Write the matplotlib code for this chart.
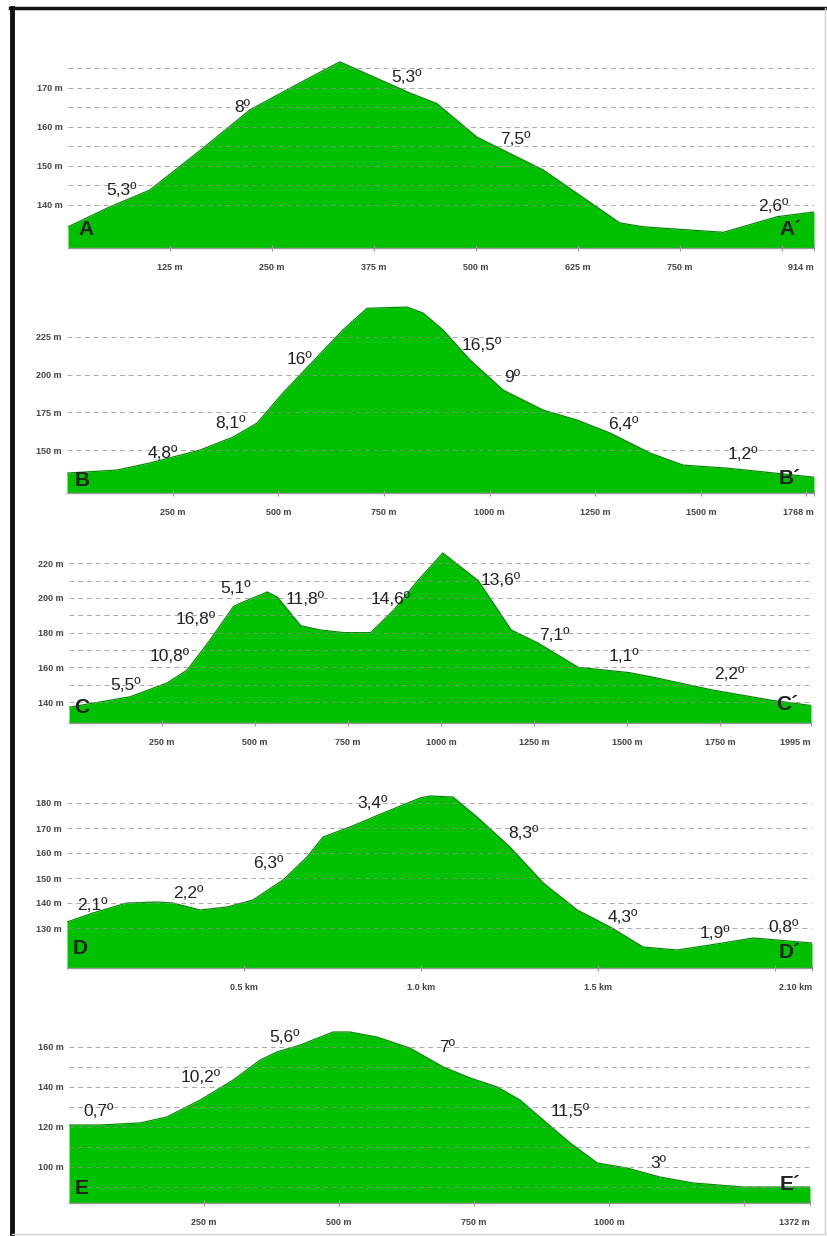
import matplotlib
matplotlib.use("Agg")
import matplotlib.pyplot as plt
from matplotlib.lines import Line2D

# ---------------- data ----------------
# Profile A-A'
a_dist = [0, 51, 100, 162, 223, 284, 333, 419, 452, 501, 582, 676, 705, 803, 869, 914]
a_elev = [134.4, 139.5, 143.8, 154, 164.4, 171.3, 176.7, 168.7, 166, 157.4, 149, 135.4, 134.4, 133, 137, 138.2]
# Profile B-B'
b_dist = [0, 118, 196, 315, 393, 450, 511, 592, 653, 710, 805, 843, 890, 954, 1032, 1127, 1207, 1285, 1380, 1458, 1562, 1768]
b_elev = [134.7, 136.7, 141.4, 150, 158.6, 167.9, 187.8, 211.7, 229.6, 244, 244.8, 240.8, 229.6, 209.7, 189.8, 176.5, 169.9, 161.3, 148, 140, 138, 132]
# Profile C-C'
c_dist = [0, 110, 164, 264, 318, 380, 442, 461, 533, 560, 623, 676, 739, 811, 873, 938, 1005, 1100, 1189, 1261, 1369, 1504, 1566, 1728, 1889, 1995]
c_elev = [137, 141, 143, 151, 158.5, 176, 195, 197, 203.4, 200.5, 184, 181.5, 180, 180, 193, 210, 225.9, 210, 181.5, 174, 160, 157, 154.5, 147, 141, 138]
# Profile D-D'
d_dist = [0, 73, 169, 254, 299, 376, 452, 525, 610, 678, 723, 799, 893, 997, 1025, 1090, 1158, 1251, 1345, 1441, 1534, 1627, 1723, 1816, 1938, 2005, 2104]
d_elev = [132.4, 136, 140, 140.4, 140, 137.2, 138.4, 141.2, 149.2, 158.4, 166.4, 170.4, 176, 182, 182.8, 182.4, 174.4, 162.4, 148, 137.2, 130.4, 122.4, 121.2, 123.2, 126, 125.2, 124]
# Profile E-E'
e_dist = [0, 57, 131, 181, 243, 304, 354, 385, 428, 489, 520, 570, 631, 693, 743, 793, 835, 878, 928, 978, 1033, 1094, 1156, 1248, 1372]
e_elev = [121, 121, 122, 125, 133.5, 143.5, 153.5, 157.5, 161, 167.5, 167.5, 165, 159.5, 150, 144.5, 140, 133.5, 123.5, 112, 102, 99.5, 95, 92, 90, 90]

# axis ticks
a_xticks = [125, 250, 375, 500, 625, 750, 875, 914]
a_xlabels = ["125 m", "250 m", "375 m", "500 m", "625 m", "750 m", "", "914 m"]
b_xticks = [250, 500, 750, 1000, 1250, 1500, 1750, 1768]
b_xlabels = ["250 m", "500 m", "750 m", "1000 m", "1250 m", "1500 m", "", "1768 m"]
c_xticks = [250, 500, 750, 1000, 1250, 1500, 1750, 1995]
c_xlabels = ["250 m", "500 m", "750 m", "1000 m", "1250 m", "1500 m", "1750 m", "1995 m"]
d_xticks = [500, 1000, 1500, 2000, 2104]
d_xlabels = ["0.5 km", "1.0 km", "1.5 km", "", "2.10 km"]
e_xticks = [250, 500, 750, 1000, 1250, 1372]
e_xlabels = ["250 m", "500 m", "750 m", "1000 m", "", "1372 m"]

a_yticks = [140, 150, 160, 170]
b_yticks = [150, 175, 200, 225]
c_yticks = [140, 160, 180, 200, 220]
d_yticks = [130, 140, 150, 160, 170, 180]
e_yticks = [100, 120, 140, 160]

a_grid = [140, 145, 150, 155, 160, 165, 170, 175]
b_grid = [150, 175, 200, 225]
c_grid = [140, 150, 160, 170, 180, 190, 200, 210, 220]
d_grid = [130, 140, 150, 160, 170, 180]
e_grid = [90, 100, 110, 120, 130, 140, 150, 160]

# slope / point annotations (text, distance, elevation)
a_notes = [("A", 22, 133.6), ("5,3º", 66, 143.8), ("8º", 213, 164.9), ("5,3º", 415, 172.6),
           ("7,5º", 548, 156.7), ("2,6º", 864, 139.5), ("A´", 885, 133.6)]
b_notes = [("B", 35, 130), ("4,8º", 227, 148), ("8,1º", 386, 167.9), ("16º", 551, 209.7),
           ("16,5º", 982, 219.6), ("9º", 1053, 198.4), ("6,4º", 1316, 166.6), ("1,2º", 1600, 146.7),
           ("B´", 1711, 131.4)]
c_notes = [("C", 35, 137), ("5,5º", 151, 149.8), ("10,8º", 272, 166), ("16,8º", 340, 187.3),
           ("5,1º", 447, 205.7), ("11,8º", 636, 198.8), ("14,6º", 865, 198.8), ("13,6º", 1162, 210.3),
           ("7,1º", 1305, 178.6), ("1,1º", 1493, 166), ("2,2º", 1776, 155.6), ("C´", 1930, 138.3)]
d_notes = [("D", 37, 122), ("2,1º", 71, 139.2), ("2,2º", 342, 144), ("6,3º", 568, 156),
           ("3,4º", 862, 180), ("8,3º", 1288, 168), ("4,3º", 1571, 134.4), ("1,9º", 1831, 128),
           ("0,8º", 2023, 130.4), ("D´", 2042, 120.4)]
e_notes = [("E", 24, 89.5), ("0,7º", 54, 127.5), ("10,2º", 243, 144.5), ("5,6º", 400, 164.5),
           ("7º", 700, 159.5), ("11,5º", 928, 127.5), ("3º", 1091, 102), ("E´", 1335, 91)]

# ---------------- layout (pixel boxes) ----------------
W, H = 827, 1236
fig = plt.figure(figsize=(W / 100, H / 100), dpi=100)
fig.patch.set_facecolor("white")

panels = [
    # dist, elev, xmax, ylim, box(x0,x1,ytop,ybot), xticks, xlabels, yticks, grid, notes
    (a_dist, a_elev, 914, (128.97, 182.3), (68, 814, 40, 248), a_xticks, a_xlabels, a_yticks, a_grid, a_notes),
    (b_dist, b_elev, 1768, (121.5, 252.8), (67, 814, 295, 493), b_xticks, b_xlabels, b_yticks, b_grid, b_notes),
    (c_dist, c_elev, 1995, (127.9, 230.5), (69, 811, 545, 723), c_xticks, c_xlabels, c_yticks, c_grid, c_notes),
    (d_dist, d_elev, 2104, (114.0, 187.2), (67, 812, 785, 968), d_xticks, d_xlabels, d_yticks, d_grid, d_notes),
    (e_dist, e_elev, 1372, (82.0, 171.0), (69, 810, 1025, 1203), e_xticks, e_xlabels, e_yticks, e_grid, e_notes),
]

FILL = "#00c000"
EDGE = "#0a8a0a"
GRID = "#8c8c8c"
TXT = "#222222"
FAM = ["Liberation Sans", "DejaVu Sans"]

for dist, elev, xmax, ylim, box, xt, xl, yt, grid, notes in panels:
    x0, x1, yt_px, yb_px = box
    ax = fig.add_axes([x0 / W, 1 - yb_px / H, (x1 - x0) / W, (yb_px - yt_px) / H])
    ax.set_xlim(0, xmax)
    ax.set_ylim(*ylim)
    ax.set_facecolor("none")
    ax.fill_between(dist, elev, ylim[0], color=FILL, linewidth=0, zorder=1)
    ax.plot(dist, elev, color=EDGE, lw=0.9, zorder=2)
    for g in grid:
        ax.axhline(g, color=GRID, lw=0.7, ls=(0, (5, 4)), alpha=0.75, zorder=3)
    for s in ("top", "right", "left"):
        ax.spines[s].set_visible(False)
    ax.spines["bottom"].set_color("#9a9a9a")
    ax.spines["bottom"].set_linewidth(1.0)
    ax.set_xticks(xt)
    ax.set_xticklabels(xl)
    ax.set_yticks(yt)
    ax.set_yticklabels([f"{v} m" for v in yt])
    ax.tick_params(axis="x", direction="inout", length=5, width=0.8, color="#9a9a9a",
                   labelsize=6.5, labelcolor="#444444", pad=8)
    ax.tick_params(axis="y", length=0, labelsize=6.5, labelcolor="#444444", pad=4)
    for lab in ax.get_xticklabels() + ax.get_yticklabels():
        lab.set_fontweight("bold")
        lab.set_family(FAM)
    ax.get_xticklabels()[-1].set_ha("right")
    for text, xd, yd in notes:
        big = not ("º" in text)
        ax.text(xd, yd, text, ha="center", va="center", color=TXT,
                fontsize=15 if big else 12.5, family=FAM, zorder=5,
                fontweight="bold" if big else "normal")

# picture frame
fig.add_artist(Line2D([12 / W, 12 / W], [1 - 8 / H, 0], transform=fig.transFigure,
                      color="#111111", lw=3.5))
fig.add_artist(Line2D([10 / W, 1], [1 - 8 / H, 1 - 8 / H], transform=fig.transFigure,
                      color="#111111", lw=2.5))
fig.add_artist(Line2D([825 / W, 825 / W], [1 - 8 / H, 2 / H], transform=fig.transFigure,
                      color="#d0d0d0", lw=1))
fig.add_artist(Line2D([12 / W, 825 / W], [2 / H, 2 / H], transform=fig.transFigure,
                      color="#d0d0d0", lw=1))

fig.savefig("out.png", dpi=100)
